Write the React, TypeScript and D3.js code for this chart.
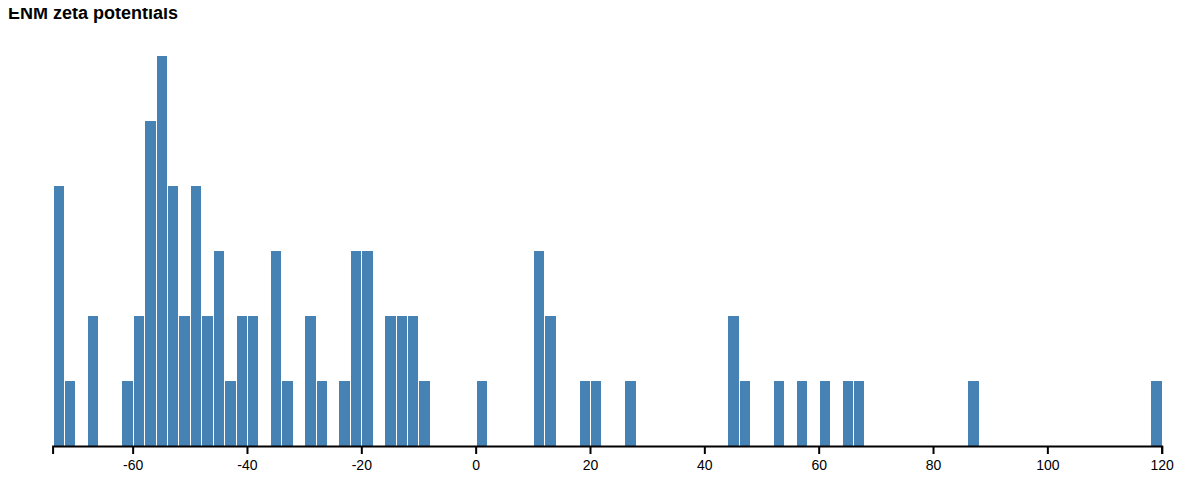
import React, { useEffect, useRef } from 'react';
import * as d3 from 'd3';

// histogram bins (lower edge, width 2) and counts
const binStarts = [
  -74, -72, -68, -62, -60, -58, -56, -54, -52, -50, -48, -46, -44, -42, -40,
  -36, -34, -30, -28, -24, -22, -20, -16, -14, -12, -10, 0, 10, 12, 18, 20,
  26, 44, 46, 52, 56, 60, 64, 66, 86, 118,
];
const binCounts = [
  4, 1, 2, 1, 2, 5, 6, 4, 2, 4, 2, 3, 1, 2, 2,
  3, 1, 2, 1, 1, 3, 3, 2, 2, 2, 1, 1, 3, 2, 1, 1,
  1, 2, 1, 1, 1, 1, 1, 1, 1, 1,
];
const binWidth = 2;
const tickValues = [-60, -40, -20, 0, 20, 40, 60, 80, 100, 120];

const App = () => {
  const chartRef = useRef(null);

  useEffect(() => {
    const svg = d3.select(chartRef.current);
    svg.selectAll('*').remove();

    // svg is pulled up over the body margin, so page coords = svg coords (y)
    const margin = { left: 44.6, right: 23.3 };
    const width = +svg.attr('width');
    const axisY = 446;

    svg.append('text')
      .attr('x', 0)
      .attr('y', 19)
      .style('font-family', 'Arial, "Liberation Sans", sans-serif')
      .style('font-size', '18px')
      .style('font-weight', 'bold')
      .text('ENM zeta potentials');

    const x = d3.scaleLinear()
      .domain([-74, 120])
      .range([margin.left, width - margin.right]);

    const y = d3.scaleLinear()
      .domain([0, 6])
      .range([axisY, 56]);

    const bins = binStarts.map((s, i) => ({ x0: s, x1: s + binWidth, n: binCounts[i] }));

    svg.append('g')
      .selectAll('rect')
      .data(bins)
      .enter()
      .append('rect')
      .attr('x', d => x(d.x0) + 1)
      .attr('y', d => y(d.n))
      .attr('width', d => Math.max(0, x(d.x1) - x(d.x0) - 1))
      .attr('height', d => y(0) - y(d.n))
      .attr('fill', 'steelblue')
      .attr('shape-rendering', 'crispEdges');

    const axis = svg.append('g')
      .attr('transform', `translate(0,${axisY})`)
      .call(d3.axisBottom(x).tickValues(tickValues).tickSize(8).tickPadding(6).tickFormat(d => String(d)));

    axis.select('.domain').attr('stroke-width', 2);
    axis.selectAll('.tick line').attr('stroke-width', 2);
    axis.selectAll('text')
      .style('font-family', 'Arial, "Liberation Sans", sans-serif')
      .style('font-size', '14px')
      .attr('fill', '#000');
  }, []);

  return (
    <svg ref={chartRef} width="1177" height="478" style={{ display: 'block', marginTop: -8 }}></svg>
  );
};

export default App;
